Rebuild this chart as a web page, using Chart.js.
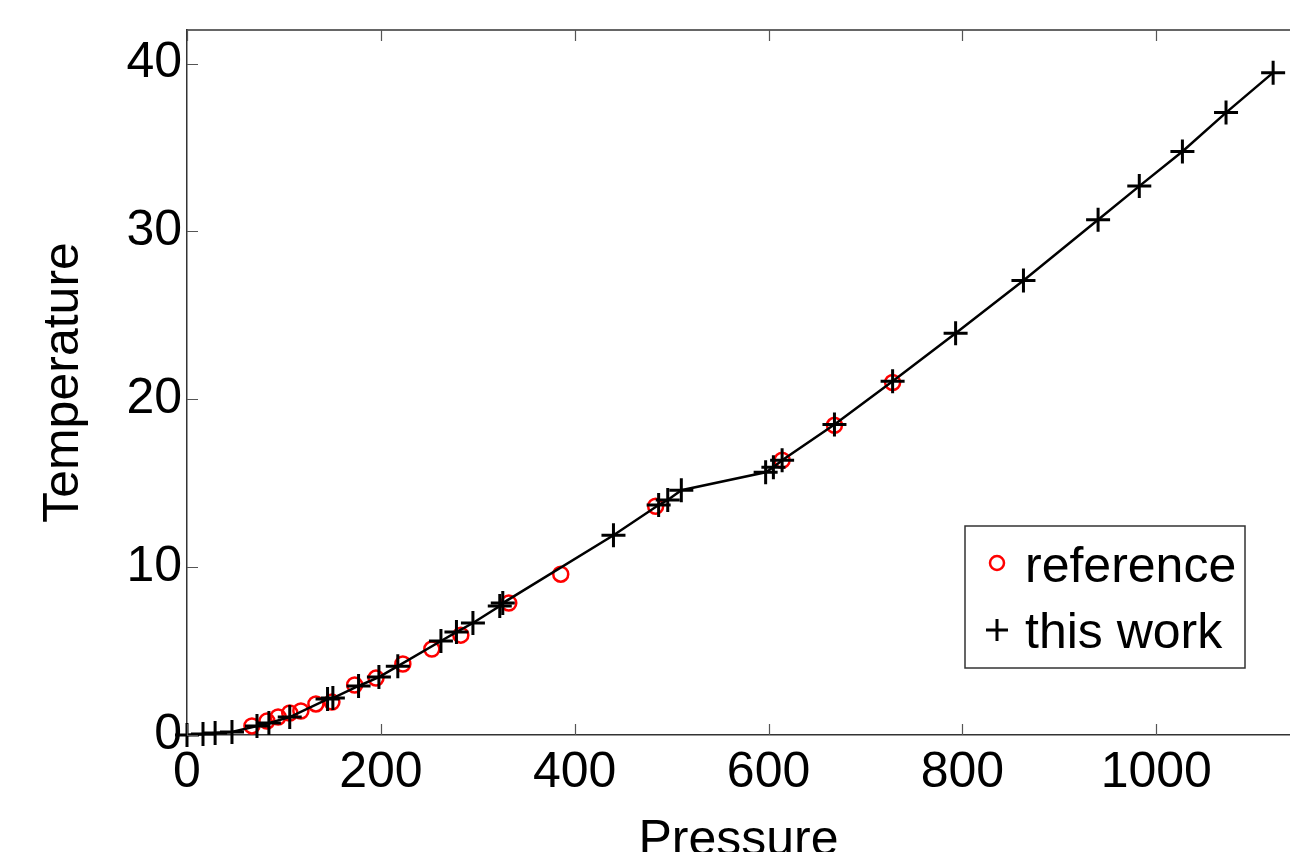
<!DOCTYPE html>
<html>
<head>
<meta charset="utf-8">
<script src="https://cdn.jsdelivr.net/npm/chart.js@4.4.1/dist/chart.umd.min.js"></script>
<style>
  html, body { margin: 0; padding: 0; background: #fff; overflow: hidden; }
  #wrap { width: 1290px; height: 852px; overflow: hidden; }
</style>
</head>
<body>
<div id="wrap"><canvas id="chart" width="1290" height="900"></canvas></div>
<script>
// reference (red circles)
const refPressure = [67, 82.5, 94, 106, 117.5, 133, 149.5, 173, 195, 222.7, 252.6, 282.5, 332, 385.6, 483.5, 614, 668, 728];
const refTemp = [0.54, 0.83, 1.07, 1.31, 1.43, 1.85, 1.96, 2.98, 3.39, 4.23, 5.12, 5.95, 7.86, 9.58, 13.63, 16.37, 18.45, 21.0];

// this work (black plus, joined by line)
const workPressure = [0, 16.5, 29, 46.4, 72.2, 84.5, 106, 145, 150.5, 177, 198, 217.5, 262, 278, 295, 322.7, 325.8,
  440, 486.6, 496, 510, 597, 605, 614, 668, 728, 793, 863, 940, 982.5, 1027, 1072, 1120.6];
const workTemp = [0, 0.06, 0.12, 0.18, 0.54, 0.71, 1.07, 2.14, 2.2, 2.92, 3.45, 4.1, 5.6, 6.13, 6.67, 7.68, 7.86,
  11.9, 13.7, 14.0, 14.58, 15.65, 15.95, 16.37, 18.5, 21.07, 23.93, 27.08, 30.7, 32.7, 34.76, 37.08, 39.46];

const xTicks = [0, 200, 400, 600, 800, 1000];
const yTicks = [0, 10, 20, 30, 40];

const FONT = "'Liberation Sans', Arial, sans-serif";

function toPoints(xs, ys) {
  return xs.map((x, i) => ({ x: x, y: ys[i] }));
}

// top border + inward tick marks
const frame = {
  id: 'frame',
  afterDatasetsDraw(chart) {
    const { ctx, chartArea: a, scales } = chart;
    ctx.save();
    ctx.strokeStyle = '#333';
    ctx.lineWidth = 1.5;
    ctx.beginPath();
    ctx.moveTo(a.left, a.top);
    ctx.lineTo(a.right + 20, a.top);
    ctx.stroke();
    ctx.strokeStyle = '#555';
    ctx.lineWidth = 1.2;
    ctx.beginPath();
    xTicks.forEach(v => {
      const px = Math.round(scales.x.getPixelForValue(v)) + 0.5;
      ctx.moveTo(px, a.bottom); ctx.lineTo(px, a.bottom - 11);
      ctx.moveTo(px, a.top); ctx.lineTo(px, a.top + 11);
    });
    yTicks.forEach(v => {
      const py = Math.round(scales.y.getPixelForValue(v)) + 0.5;
      ctx.moveTo(a.left, py); ctx.lineTo(a.left + 11, py);
    });
    ctx.stroke();
    ctx.restore();
  }
};

// legend box inside plot, bottom right
const boxLegend = {
  id: 'boxLegend',
  afterDraw(chart) {
    const ctx = chart.ctx;
    const x0 = 965, y0 = 526, w = 280, h = 142;
    ctx.save();
    ctx.fillStyle = '#fff';
    ctx.fillRect(x0, y0, w, h);
    ctx.strokeStyle = '#333';
    ctx.lineWidth = 1.5;
    ctx.strokeRect(x0, y0, w, h);
    const rows = [
      { ds: chart.data.datasets[1], y: 563, base: 582, r: 7 },
      { ds: chart.data.datasets[0], y: 630, base: 648, r: 11 }
    ];
    rows.forEach(row => {
      ctx.strokeStyle = row.ds.pointBorderColor;
      ctx.fillStyle = 'rgba(0,0,0,0)';
      ctx.lineWidth = row.ds.pointBorderWidth;
      Chart.helpers.drawPoint(ctx, {
        pointStyle: row.ds.pointStyle,
        radius: row.r,
        rotation: 0,
        borderWidth: row.ds.pointBorderWidth
      }, 997, row.y);
      ctx.font = '50px ' + FONT;
      ctx.fillStyle = '#000';
      ctx.textBaseline = 'alphabetic';
      ctx.textAlign = 'left';
      ctx.fillText(row.ds.label, 1025, row.base);
    });
    ctx.restore();
  }
};

const ctx = document.getElementById('chart').getContext('2d');
const chart = new Chart(ctx, {
  type: 'scatter',
  data: {
    datasets: [
      {
        label: 'this work',
        data: toPoints(workPressure, workTemp),
        showLine: true,
        borderColor: '#000',
        borderWidth: 2.5,
        tension: 0,
        pointStyle: 'cross',
        pointRadius: 12,
        pointBorderColor: '#000',
        pointBackgroundColor: '#000',
        pointBorderWidth: 3,
        order: 1
      },
      {
        label: 'reference',
        data: toPoints(refPressure, refTemp),
        showLine: false,
        pointStyle: 'circle',
        pointRadius: 7.5,
        pointBorderColor: '#ff0000',
        pointBackgroundColor: 'rgba(0,0,0,0)',
        pointBorderWidth: 2.5,
        order: 2
      }
    ]
  },
  options: {
    responsive: false,
    animation: false,
    clip: false,
    layout: { autoPadding: false, padding: { top: 30, right: 0, left: 0, bottom: 0 } },
    plugins: {
      legend: { display: false },
      tooltip: { enabled: false }
    },
    scales: {
      x: {
        type: 'linear',
        min: 0,
        max: 1138,
        afterFit: s => { s.height = 165; s.paddingLeft = 0; s.paddingRight = 0; },
        grid: { display: false, drawTicks: false },
        border: { display: true, color: '#333', width: 1.5 },
        ticks: {
          stepSize: 200,
          includeBounds: false,
          padding: 8,
          color: '#000',
          font: { family: FONT, size: 50 },
          maxRotation: 0,
          callback: v => String(v)
        },
        title: {
          display: true,
          text: 'Pressure',
          color: '#000',
          font: { family: FONT, size: 50 },
          padding: { top: 0, bottom: 29 }
        }
      },
      y: {
        type: 'linear',
        min: 0,
        max: 42,
        afterFit: s => { s.width = 187; s.paddingTop = 0; s.paddingBottom = 0; },
        grid: { display: false, drawTicks: false },
        border: { display: true, color: '#333', width: 1.5 },
        ticks: {
          stepSize: 10,
          includeBounds: false,
          padding: 5,
          color: '#000',
          font: { family: FONT, size: 50 },
          callback: v => String(v)
        },
        title: {
          display: true,
          text: 'Temperature',
          color: '#000',
          font: { family: FONT, size: 50 },
          padding: { top: 34, bottom: 0 }
        }
      }
    }
  },
  plugins: [frame, boxLegend]
});
</script>
</body>
</html>
